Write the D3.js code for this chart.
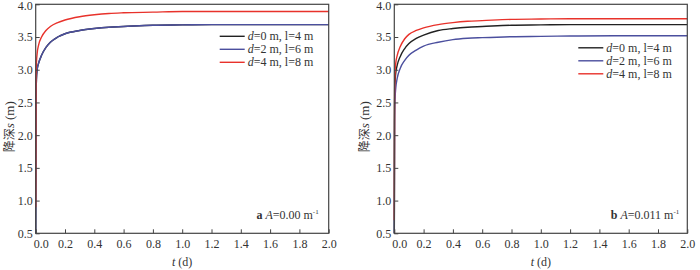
<!DOCTYPE html>
<html>
<head>
<meta charset="utf-8">
<script src="https://cdn.jsdelivr.net/npm/d3@7"></script>
<style>
  body { margin: 0; background: #fff; }
  svg text { font-family: "Liberation Serif", "Times New Roman", serif; fill: #333; }
  .axis path, .axis line { stroke: #444; }
</style>
</head>
<body>
<svg width="700" height="270"></svg>
<script>
// time (d)
var times = [0, 0.002, 0.005, 0.01, 0.02, 0.04, 0.07, 0.1, 0.15, 0.2, 0.3, 0.4, 0.5, 0.6, 0.8, 1.0, 1.2, 1.5, 2.0];

// panel a, A = 0.00 m-1
var aD0 = [0.5, 2.5, 2.85, 3.0, 3.1, 3.22, 3.34, 3.42, 3.5, 3.55, 3.6, 3.63, 3.65, 3.66, 3.68, 3.685, 3.69, 3.69, 3.69];
var aD2 = [0.5, 2.5, 2.85, 3.0, 3.1, 3.22, 3.34, 3.42, 3.5, 3.55, 3.6, 3.63, 3.65, 3.66, 3.68, 3.685, 3.69, 3.69, 3.69];
var aD4 = [0.9, 2.8, 3.1, 3.25, 3.38, 3.5, 3.6, 3.66, 3.72, 3.76, 3.81, 3.84, 3.86, 3.87, 3.88, 3.89, 3.89, 3.89, 3.89];

// panel b, A = 0.011 m-1
var bD0 = [0.5, 2.45, 2.8, 2.95, 3.07, 3.2, 3.32, 3.4, 3.48, 3.53, 3.6, 3.63, 3.65, 3.66, 3.68, 3.685, 3.69, 3.69, 3.69];
var bD2 = [0.5, 2.2, 2.55, 2.72, 2.87, 3.02, 3.14, 3.22, 3.3, 3.36, 3.42, 3.46, 3.48, 3.49, 3.505, 3.51, 3.515, 3.52, 3.52];
var bD4 = [0.7, 2.6, 2.95, 3.1, 3.22, 3.35, 3.47, 3.54, 3.6, 3.64, 3.69, 3.72, 3.74, 3.75, 3.77, 3.775, 3.78, 3.78, 3.78];

var xTicks = [0, 0.2, 0.4, 0.6, 0.8, 1.0, 1.2, 1.4, 1.6, 1.8, 2.0];
var yTicks = [0.5, 1.0, 1.5, 2.0, 2.5, 3.0, 3.5, 4.0];
var seriesNames = [["d", "=0 m, l=4 m"], ["d", "=2 m, l=6 m"], ["d", "=4 m, l=8 m"]];
var seriesColors = ["#222222", "#4b4f9e", "#e8322b"];

var svg = d3.select("svg");

function drawPanel(opts) {
    var left = opts.left, top = 4.3, w = 293, h = 229;
    var x = d3.scaleLinear().domain([0, 2]).range([0, w]);
    var y = d3.scaleLinear().domain([0.5, 4]).range([h, 0]);

    var g = svg.append("g").attr("transform", "translate(" + left + "," + top + ")");

    var line = d3.line()
        .x(function (d) { return x(d[0]); })
        .y(function (d) { return y(d[1]); })
        .curve(d3.curveMonotoneX);

    opts.series.forEach(function (vals, i) {
        g.append("path")
            .datum(times.map(function (t, k) { return [t, vals[k]]; }))
            .attr("fill", "none")
            .attr("stroke", seriesColors[i])
            .attr("stroke-width", 1.4)
            .attr("d", line);
    });

    // frame
    g.append("rect")
        .attr("width", w).attr("height", h)
        .attr("fill", "none").attr("stroke", "#444").attr("stroke-width", 1.2);

    var xAxis = g.append("g").attr("class", "axis")
        .attr("transform", "translate(0," + h + ")")
        .call(d3.axisBottom(x).tickValues(xTicks).tickSize(-4).tickPadding(6.5).tickFormat(d3.format(".1f")));
    xAxis.select(".domain").remove();
    xAxis.selectAll("text").attr("font-size", 12).attr("fill", "#333");
    xAxis.selectAll(".tick").filter(function (d) { return d === 0; }).select("text").attr("dx", 5);

    var yAxis = g.append("g").attr("class", "axis")
        .call(d3.axisLeft(y).tickValues(yTicks).tickSize(-4).tickPadding(3).tickFormat(d3.format(".1f")));
    yAxis.select(".domain").remove();
    yAxis.selectAll("text").attr("font-size", 12).attr("fill", "#333");
    // keep the top label inside the window
    yAxis.selectAll(".tick").filter(function (d) { return d === 4; }).select("text").attr("dy", "0.45em");

    // axis titles
    var xt = g.append("text").attr("x", w / 2).attr("y", 262).attr("text-anchor", "middle").attr("font-size", 12);
    xt.append("tspan").attr("font-style", "italic").text("t");
    xt.append("tspan").text(" (d)");

    var yt = g.append("text")
        .attr("transform", "translate(" + (-left + opts.ylabX) + "," + (h / 2 + 8) + ") rotate(-90)")
        .attr("text-anchor", "middle").attr("font-size", 13);
    yt.append("tspan").attr("font-family", "Noto Sans CJK SC").attr("font-size", 12).text("降深");
    yt.append("tspan").attr("font-style", "italic").text("s");
    yt.append("tspan").text(" (m)");

    // legend
    var lg = g.append("g").attr("transform", "translate(" + opts.legX + "," + opts.legY + ")");
    seriesNames.forEach(function (n, i) {
        lg.append("line").attr("x1", 0).attr("x2", 25).attr("y1", i * 13).attr("y2", i * 13)
            .attr("stroke", seriesColors[i]).attr("stroke-width", 1.4);
        var t = lg.append("text").attr("x", 28).attr("y", i * 13 + 4).attr("font-size", 12);
        t.append("tspan").attr("font-style", "italic").text(n[0]);
        t.append("tspan").text(n[1]);
    });

    // panel tag
    var tag = g.append("text").attr("x", opts.tagX).attr("y", 215).attr("text-anchor", "end").attr("font-size", 12);
    tag.append("tspan").attr("font-weight", "bold").text(opts.tag + " ");
    tag.append("tspan").attr("font-style", "italic").text("A");
    tag.append("tspan").text("=" + opts.aVal + " m");
    tag.append("tspan").attr("font-size", 7).attr("dy", -5).text("-1");
}

drawPanel({ left: 35.7, series: [aD0, aD2, aD4], legX: 184, legY: 32, tagX: 283, tag: "a", aVal: "0.00", ylabX: 13.5 });
drawPanel({ left: 394.3, series: [bD0, bD2, bD4], legX: 184, legY: 43.5, tagX: 285, tag: "b", aVal: "0.011", ylabX: 369 });
</script>
</body>
</html>
